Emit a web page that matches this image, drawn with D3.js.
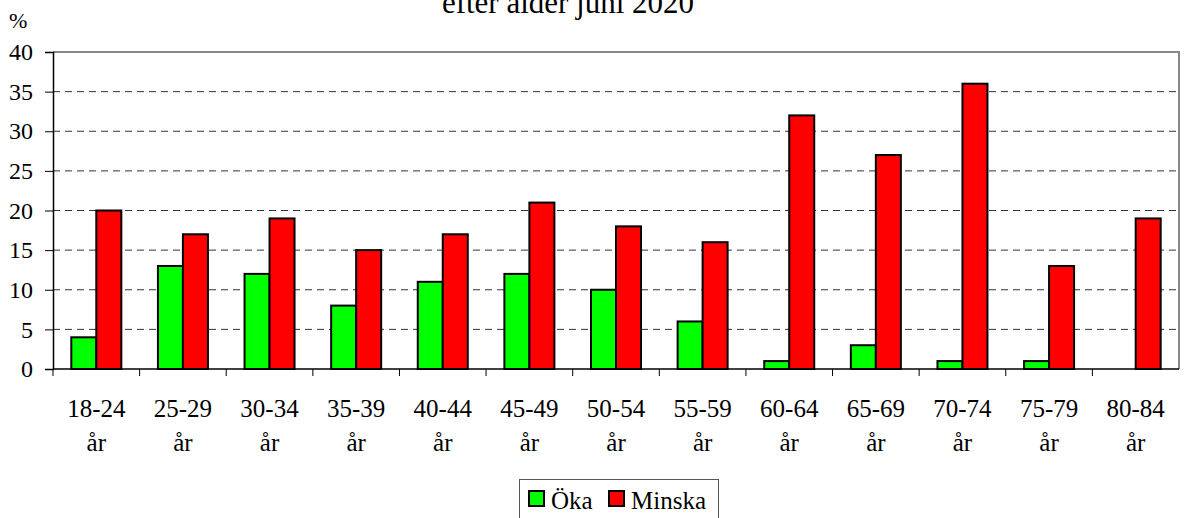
<!DOCTYPE html>
<html>
<head>
<meta charset="utf-8">
<script src="https://cdn.jsdelivr.net/npm/d3@7"></script>
<style>
  body { margin: 0; background: #fff; }
  svg, svg text { font-family: "Liberation Serif", "DejaVu Serif", serif; }
</style>
</head>
<body>
<script>
'use strict';

// chart data
const ageGroups = ["18-24", "25-29", "30-34", "35-39", "40-44", "45-49", "50-54",
                   "55-59", "60-64", "65-69", "70-74", "75-79", "80-84"];
const okaValues = [4, 13, 12, 8, 11, 12, 10, 6, 1, 3, 1, 1, 0];
const minskaValues = [20, 17, 19, 15, 17, 21, 18, 16, 32, 27, 36, 13, 19];
const yTicks = [0, 5, 10, 15, 20, 25, 30, 35, 40];
const seriesNames = ["Öka", "Minska"];
const seriesColors = ["#00ff00", "#ff0000"];

const width = 1185, height = 518;
const plot = { left: 53, right: 1179, top: 52, bottom: 369 };
const serif = '"Liberation Serif", "DejaVu Serif", serif';

const svg = d3.select('body').append('svg')
  .attr('width', width)
  .attr('height', height)
  .attr('font-family', serif);

// title (its top is cut off in the original)
svg.append('text')
  .attr('x', 568)
  .attr('y', 13)
  .attr('text-anchor', 'middle')
  .attr('font-size', 31)
  .text('efter ålder juni 2020');

// scales
const x = d3.scaleBand()
  .domain(ageGroups)
  .range([plot.left, plot.right]);

const y = d3.scaleLinear()
  .domain([0, 40])
  .range([plot.bottom, plot.top]);

const barW = 25;

// gridlines
svg.append('g')
  .selectAll('line')
  .data(yTicks.filter(d => d > 0 && d < 40))
  .enter()
  .append('line')
    .attr('x1', plot.left)
    .attr('x2', plot.right)
    .attr('y1', d => y(d))
    .attr('y2', d => y(d))
    .attr('stroke', '#333')
    .attr('stroke-width', 1)
    .attr('stroke-dasharray', '7,5');

// top and right border
svg.append('path')
  .attr('d', `M${plot.left},${y(40)}H${plot.right}V${plot.bottom}`)
  .attr('fill', 'none')
  .attr('stroke', '#888')
  .attr('stroke-width', 2);

// bars
const groups = svg.append('g')
  .selectAll('g')
  .data(ageGroups)
  .enter()
  .append('g')
    .attr('transform', d => 'translate(' + (x(d) + x.bandwidth() / 2) + ',0)');

[okaValues, minskaValues].forEach((vals, si) => {
  groups.append('rect')
    .attr('x', si === 0 ? -barW : 0)
    .attr('width', barW)
    .attr('y', (d, i) => y(vals[i]))
    .attr('height', (d, i) => y(0) - y(vals[i]))
    .attr('fill', seriesColors[si])
    .attr('stroke', '#000')
    .attr('stroke-width', 2)
    .style('display', (d, i) => vals[i] > 0 ? null : 'none');
});

// y axis
const yAxis = d3.axisLeft(y)
  .tickValues(yTicks)
  .tickSize(8)
  .tickPadding(12);
const gy = svg.append('g')
  .attr('transform', 'translate(' + plot.left + ',0)')
  .call(yAxis)
  .attr('font-family', serif)
  .attr('font-size', 24);
gy.select('.domain').attr('stroke', '#000').attr('stroke-width', 1.5);
gy.selectAll('.tick line').attr('stroke', '#000');

svg.append('text')
  .attr('x', 9)
  .attr('y', 28)
  .attr('font-size', 22)
  .text('%');

// x axis: ticks at category boundaries
svg.append('line')
  .attr('x1', plot.left)
  .attr('x2', plot.right)
  .attr('y1', plot.bottom)
  .attr('y2', plot.bottom)
  .attr('stroke', '#000')
  .attr('stroke-width', 1.5);

svg.append('g')
  .selectAll('line')
  .data(ageGroups)
  .enter()
  .append('line')
    .attr('x1', d => x(d))
    .attr('x2', d => x(d))
    .attr('y1', plot.bottom)
    .attr('y2', plot.bottom + 7)
    .attr('stroke', '#000');

const xl = svg.append('g')
  .selectAll('text')
  .data(ageGroups)
  .enter()
  .append('text')
    .attr('text-anchor', 'middle')
    .attr('x', d => x(d) + x.bandwidth() / 2)
    .attr('y', 417)
    .attr('font-size', 25);
xl.append('tspan').text(d => d);
xl.append('tspan')
  .attr('x', d => x(d) + x.bandwidth() / 2)
  .attr('dy', 34)
  .text('år');

// legend
const legend = svg.append('g');
legend.append('rect')
  .attr('x', 519.5)
  .attr('y', 479.5)
  .attr('width', 199)
  .attr('height', 45)
  .attr('fill', '#fff')
  .attr('stroke', '#555')
  .attr('stroke-width', 1);

const legendX = [529, 609];
seriesNames.forEach((name, i) => {
  legend.append('rect')
    .attr('x', legendX[i])
    .attr('y', 491)
    .attr('width', 15)
    .attr('height', 15)
    .attr('fill', seriesColors[i])
    .attr('stroke', '#000')
    .attr('stroke-width', 2);
  legend.append('text')
    .attr('x', legendX[i] + 22)
    .attr('y', 509)
    .attr('font-size', 25)
    .text(name);
});
</script>
</body>
</html>
